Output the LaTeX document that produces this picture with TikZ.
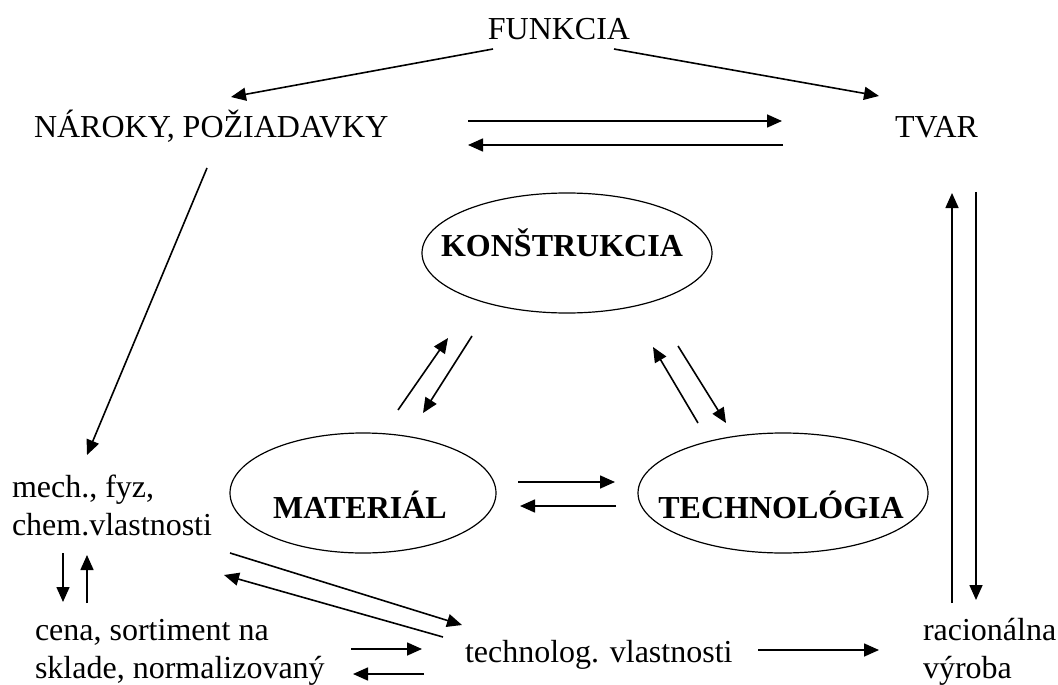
\documentclass[tikz,border=0pt]{standalone}
\usepackage{fontspec}
\setmainfont{Liberation Serif}
\usetikzlibrary{arrows.meta,shapes.geometric}
\begin{document}
\begin{tikzpicture}[x=0.5pt,y=-0.5pt,
  lbl/.style={inner sep=0pt,outer sep=0pt,font=\fontsize{16pt}{19pt}\selectfont},
  blbl/.style={inner sep=0pt,outer sep=0pt,font=\fontsize{16pt}{19pt}\selectfont\bfseries},
  ell/.style={ellipse,draw,line width=0.6pt,inner sep=0pt},
  arr/.style={-{Triangle[length=7.5pt,width=6.5pt]},line width=0.8pt},
  ln/.style={line width=0.8pt}]
\useasboundingbox (0,0) rectangle (1058,684);

% text labels
\node[lbl,anchor=base] (fun) at (559,40) {FUNKCIA};
\node[lbl,anchor=base west] (nar) at (34,138) {NÁROKY, POŽIADAVKY};
\node[lbl,anchor=base west] (tvar) at (895,138) {TVAR};
\node[lbl,anchor=base west] (mech) at (12,497) {\begin{tabular}[t]{@{}l@{}}mech., fyz,\\chem.vlastnosti\end{tabular}};
\node[lbl,anchor=base west] (cena) at (35,640) {\begin{tabular}[t]{@{}l@{}}cena, sortiment na\\sklade, normalizovaný\end{tabular}};
\node[lbl,anchor=base west] (tvl) at (465,662) {technolog. vlastnosti};
\node[lbl,anchor=base west] (rac) at (923,640) {\begin{tabular}[t]{@{}l@{}}racionálna\\výroba\end{tabular}};

% ellipses
\node[ell,minimum width=145pt,minimum height=60pt] (kon) at (567,253) {};
\node[blbl,anchor=base] (konT) at (562,256) {KONŠTRUKCIA};
\node[ell,minimum width=133pt,minimum height=60pt] (mat) at (363,493) {};
\node[blbl,anchor=base] (matT) at (360,518) {MATERIÁL};
\node[ell,minimum width=145pt,minimum height=60pt] (tech) at (783,493) {};
\node[blbl,anchor=base] (techT) at (781,518) {TECHNOLÓGIA};

% arrow end points
\coordinate (fA) at (493,49);   \coordinate (nA) at (231,97);
\coordinate (fB) at (614,49);   \coordinate (tB) at (879,96);
\coordinate (nC) at (468,121);  \coordinate (tC) at (782,121);
\coordinate (tD) at (783,145);  \coordinate (nD) at (468,145);
\coordinate (nE) at (207,168);  \coordinate (mE) at (87,455);
\coordinate (mF) at (398,410);  \coordinate (kF) at (448,338);
\coordinate (kG) at (472,336);  \coordinate (mG) at (423,413);
\coordinate (tH) at (698,423);  \coordinate (kH) at (653,347);
\coordinate (kI) at (678,346);  \coordinate (tI) at (726,423);
\coordinate (mJ) at (518,482);  \coordinate (tJ) at (615,482);
\coordinate (tK) at (616,506);  \coordinate (mK) at (520,506);
\coordinate (mL) at (63,553);   \coordinate (cL) at (63,602);
\coordinate (cM) at (87,603);   \coordinate (mM) at (87,555);
\coordinate (mN) at (230,553);  \coordinate (vN) at (462,625);
\coordinate (vO) at (443,637);  \coordinate (mO) at (224,575);
\coordinate (cP) at (351,649);  \coordinate (vP) at (422,649);
\coordinate (vQ) at (424,674);  \coordinate (cQ) at (353,674);
\coordinate (vR) at (758,650);  \coordinate (rR) at (879,650);
\coordinate (rS) at (952,603);  \coordinate (tS) at (952,193);
\coordinate (tT) at (976,192);  \coordinate (rT) at (976,600);

% connectors
\draw[arr] (fA) -- (nA);
\draw[arr] (fB) -- (tB);
\draw[arr] (nC) -- (tC);
\draw[arr] (tD) -- (nD);
\draw[arr] (nE) -- (mE);
\draw[arr] (mF) -- (kF);
\draw[arr] (kG) -- (mG);
\draw[arr] (tH) -- (kH);
\draw[arr] (kI) -- (tI);
\draw[arr] (mJ) -- (tJ);
\draw[arr] (tK) -- (mK);
\draw[arr] (mL) -- (cL);
\draw[arr] (cM) -- (mM);
\draw[arr] (mN) -- (vN);
\draw[arr] (vO) -- (mO);
\draw[arr] (cP) -- (vP);
\draw[arr] (vQ) -- (cQ);
\draw[arr] (vR) -- (rR);
\draw[arr] (rS) -- (tS);
\draw[arr] (tT) -- (rT);
\end{tikzpicture}
\end{document}
